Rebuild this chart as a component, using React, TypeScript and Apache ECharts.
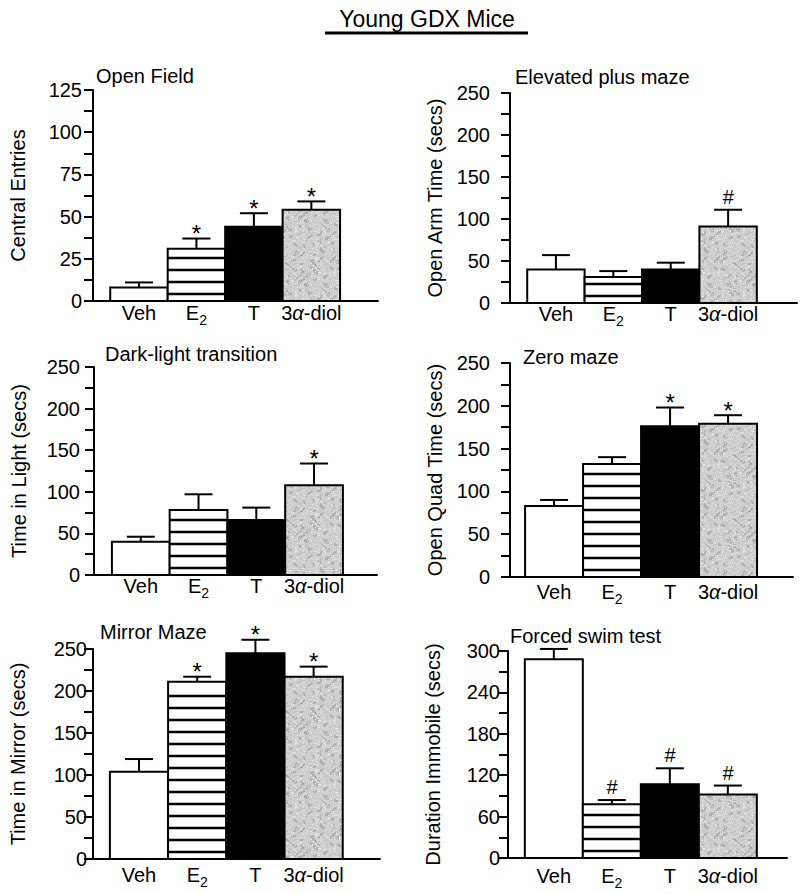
import React, { useEffect, useRef } from 'react';
import * as echarts from 'echarts';

// ---- Data ----
const groups = ['Veh', 'E2', 'T', '3α-diol'];

const openFieldMean = [8, 31, 44, 54];
const openFieldSem = [3, 6, 8, 5];
const openFieldMark = ['', '*', '*', '*'];

const plusMazeMean = [40, 31, 40, 91];
const plusMazeSem = [17, 7, 8, 20];
const plusMazeMark = ['', '', '', '#'];

const darkLightMean = [40, 78, 66, 108];
const darkLightSem = [6, 19, 15, 26];
const darkLightMark = ['', '', '', '*'];

const zeroMazeMean = [83, 132, 176, 179];
const zeroMazeSem = [7, 8, 22, 10];
const zeroMazeMark = ['', '', '*', '*'];

const mirrorMazeMean = [104, 211, 245, 217];
const mirrorMazeSem = [15, 6, 16, 12];
const mirrorMazeMark = ['', '*', '*', '*'];

const swimMean = [288, 78, 107, 92];
const swimSem = [15, 6, 23, 13];
const swimMark = ['', '#', '#', '#'];

const panelTitles = ['Open Field', 'Elevated plus maze', 'Dark-light transition', 'Zero maze', 'Mirror Maze', 'Forced swim test'];
const yNames = ['Central Entries', 'Open Arm Time (secs)', 'Time in Light (secs)', 'Open Quad Time (secs)', 'Time in Mirror (secs)', 'Duration Immobile (secs)'];
const yMax = [125, 250, 250, 250, 250, 300];
const yInterval = [25, 50, 50, 50, 50, 60];
const mainTitle = 'Young GDX Mice';

const FONT = '"Liberation Sans", Arial, Helvetica, sans-serif';

// ---- Layout (positions only) ----
const layouts = [
  { left: 93, top: 90, width: 285, height: 211, xmin: -0.8, xmax: 4.16, yLabelMargin: 11, xLabelMargin: 6, tx: 96, ty: 76 },
  { left: 510, top: 93, width: 287, height: 210, xmin: -0.8, xmax: 4.2, yLabelMargin: 20, xLabelMargin: 5, tx: 515, ty: 77 },
  { left: 94, top: 367, width: 283, height: 208, xmin: -0.81, xmax: 4.09, yLabelMargin: 14, xLabelMargin: 5, tx: 105, ty: 354 },
  { left: 510, top: 363, width: 283, height: 214, xmin: -0.76, xmax: 4.12, yLabelMargin: 20, xLabelMargin: 9, tx: 523, ty: 357 },
  { left: 93, top: 649, width: 287, height: 210, xmin: -0.79, xmax: 4.14, yLabelMargin: 6, xLabelMargin: 10, tx: 100, ty: 632 },
  { left: 508, top: 651, width: 279, height: 208, xmin: -0.79, xmax: 4.02, yLabelMargin: 8, xLabelMargin: 12, tx: 510, ty: 636 },
];

function makeGrayTexture(): HTMLCanvasElement {
  const size = 64;
  const c = document.createElement('canvas');
  c.width = size;
  c.height = size;
  const ctx = c.getContext('2d')!;
  const img = ctx.createImageData(size, size);
  const fract = (v: number) => v - Math.floor(v);
  for (let y = 0; y < size; y++) {
    for (let x = 0; x < size; x++) {
      const n = Math.sin(x * 0.49 + Math.sin(y * 0.29) * 2.4) * Math.cos(y * 0.39 - Math.sin(x * 0.21) * 2.0);
      const h = fract(Math.sin(x * 12.9898 + y * 78.233) * 43758.5453);
      let g = 206;
      if (n > 0.55) g = 178;
      else if (n > 0.35) g = 192;
      if (h > 0.88) g = 232;
      else if (h < 0.05) g -= 16;
      const k = (y * size + x) * 4;
      img.data[k] = g;
      img.data[k + 1] = g;
      img.data[k + 2] = g;
      img.data[k + 3] = 255;
    }
  }
  ctx.putImageData(img, 0, 0);
  return c;
}

function formatGroup(v: number): string {
  const name = groups[Math.round(v)] ?? '';
  if (name === 'E2') return '{n|E}{s|2}';
  if (name.startsWith('3α')) return '{n|3}{a|α}{n|-diol}';
  return `{n|${name}}`;
}

export default function App() {
  const ref = useRef<HTMLDivElement>(null);
  useEffect(() => {
    if (!ref.current) return;
    const chart = echarts.init(ref.current, null, { renderer: 'svg' });
    const gray = makeGrayTexture();
    const grayFill: any = { image: gray, repeat: 'repeat' };

    const means = [openFieldMean, plusMazeMean, darkLightMean, zeroMazeMean, mirrorMazeMean, swimMean];
    const sems = [openFieldSem, plusMazeSem, darkLightSem, zeroMazeSem, mirrorMazeSem, swimSem];
    const marks = [openFieldMark, plusMazeMark, darkLightMark, zeroMazeMark, mirrorMazeMark, swimMark];

    const grids: any[] = [];
    const xAxes: any[] = [];
    const yAxes: any[] = [];
    const series: any[] = [];
    const graphics: any[] = [];

    layouts.forEach((L, k) => {
      grids.push({ left: L.left, top: L.top, width: L.width, height: L.height });
      xAxes.push({
        gridIndex: k,
        type: 'value',
        min: L.xmin,
        max: L.xmax,
        axisLine: { show: true, onZero: false, lineStyle: { color: '#000', width: 2 } },
        axisTick: { show: false },
        splitLine: { show: false },
        axisLabel: {
          customValues: [0, 1, 2, 3],
          formatter: formatGroup,
          margin: L.xLabelMargin,
          color: '#000',
          rich: {
            n: { fontSize: 20, lineHeight: 20, fontFamily: FONT, color: '#000', padding: [0, 0, 8, 0] },
            s: { fontSize: 14, lineHeight: 14, fontFamily: FONT, color: '#000', padding: [10, 0, 4, 0] },
            a: { fontSize: 20, lineHeight: 20, fontFamily: FONT, color: '#000', fontStyle: 'italic', padding: [0, 0, 8, 0] },
          },
        },
      });
      yAxes.push({
        gridIndex: k,
        type: 'value',
        min: 0,
        max: yMax[k],
        interval: yInterval[k],
        axisLine: { show: true, onZero: false, lineStyle: { color: '#000', width: 2 } },
        axisTick: { show: true, length: 9, lineStyle: { color: '#000', width: 2 } },
        minorTick: { show: true, splitNumber: 2, length: 9, lineStyle: { color: '#000', width: 2 } },
        splitLine: { show: false },
        minorSplitLine: { show: false },
        axisLabel: { color: '#000', fontSize: 20, fontFamily: FONT, margin: L.yLabelMargin },
        name: yNames[k],
        nameLocation: 'middle',
        nameGap: 65,
        nameTextStyle: { color: '#000', fontSize: 20, fontFamily: FONT },
      });
      const m = means[k];
      const s = sems[k];
      const mk = marks[k];
      series.push({
        type: 'custom',
        xAxisIndex: k,
        yAxisIndex: k,
        silent: true,
        clip: false,
        encode: { x: 0, y: [1, 2] },
        data: m.map((v, i) => [i, v, v + s[i]]),
        renderItem: (params: any, api: any) => {
          const i = api.value(0);
          const mean = api.value(1);
          const top = api.value(2);
          const p0 = api.coord([i - 0.5, mean]);
          const p1 = api.coord([i + 0.5, 0]);
          const x0 = p0[0];
          const y0 = p0[1];
          const x1 = p1[0];
          const yb = p1[1];
          const children: any[] = [];
          const fill = i === 2 ? '#000' : i === 3 ? grayFill : '#fff';
          children.push({
            type: 'rect',
            shape: { x: x0, y: y0, width: x1 - x0, height: yb - y0 },
            style: { fill, stroke: '#000', lineWidth: 2 },
          });
          if (i === 1) {
            for (let yy = yb - 7; yy > y0 + 4; yy -= 12) {
              children.push({
                type: 'line',
                shape: { x1: x0, y1: yy, x2: x1, y2: yy },
                style: { stroke: '#000', lineWidth: 2.4 },
              });
            }
          }
          const pt = api.coord([i, top]);
          const cx = pt[0];
          children.push({ type: 'line', shape: { x1: cx, y1: y0, x2: cx, y2: pt[1] }, style: { stroke: '#000', lineWidth: 2 } });
          children.push({ type: 'line', shape: { x1: cx - 14, y1: pt[1], x2: cx + 14, y2: pt[1] }, style: { stroke: '#000', lineWidth: 2 } });
          const mark = mk[params.dataIndex];
          if (mark) {
            const isHash = mark === '#';
            children.push({
              type: 'text',
              x: cx,
              y: pt[1] - (isHash ? 13 : 5),
              style: {
                text: mark,
                fill: '#000',
                fontSize: isHash ? 20 : 24,
                fontStyle: isHash ? 'italic' : 'normal',
                fontFamily: FONT,
                align: 'center',
                verticalAlign: 'middle',
              },
            });
          }
          return { type: 'group', children };
        },
      });
      graphics.push({
        type: 'text',
        x: L.tx,
        y: L.ty,
        style: { text: panelTitles[k], fill: '#000', fontSize: 20, fontFamily: FONT, align: 'left', verticalAlign: 'middle' },
      });
    });

    graphics.push({
      type: 'text',
      x: 427,
      y: 18.5,
      style: { text: mainTitle, fill: '#000', fontSize: 23, fontFamily: FONT, align: 'center', verticalAlign: 'middle' },
    });
    graphics.push({
      type: 'line',
      shape: { x1: 325, y1: 33, x2: 528, y2: 33 },
      style: { stroke: '#000', lineWidth: 3 },
    });

    chart.setOption({
      animation: false,
      backgroundColor: '#fff',
      textStyle: { fontFamily: FONT },
      grid: grids,
      xAxis: xAxes,
      yAxis: yAxes,
      series,
      graphic: graphics,
    });
    return () => chart.dispose();
  }, []);
  return <div ref={ref} style={{ position: 'fixed', left: 0, top: 0, width: 800, height: 894 }} />;
}
